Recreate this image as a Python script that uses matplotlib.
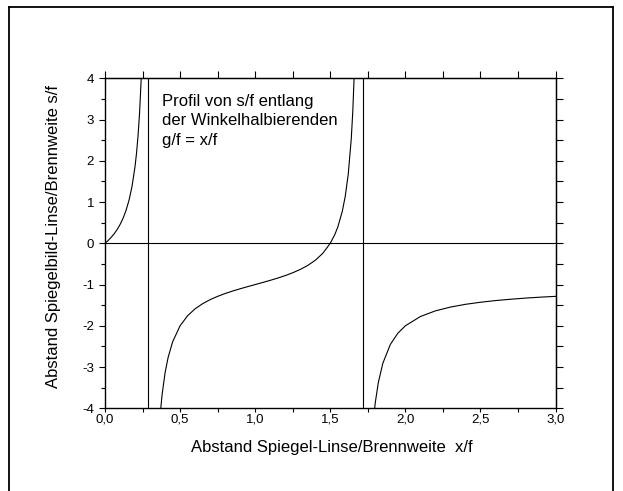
import matplotlib
matplotlib.use('Agg')
import matplotlib.pyplot as plt
from matplotlib.ticker import MultipleLocator, FuncFormatter, NullFormatter
from matplotlib.lines import Line2D

plt.rcParams['font.family'] = ['Liberation Sans', 'DejaVu Sans']

# branch left of first pole
x1 = [0.0, 0.02, 0.04, 0.06, 0.08, 0.10, 0.12, 0.14, 0.16, 0.18, 0.20,
      0.21, 0.22, 0.23, 0.24, 0.245, 0.25]
y1 = [0.0, 0.064, 0.139, 0.225, 0.328, 0.452, 0.604, 0.795, 1.043, 1.378, 1.857,
      2.183, 2.598, 3.144, 3.897, 4.391, 5.0]

# middle branch
x2 = [0.36, 0.37, 0.38, 0.40, 0.42, 0.45, 0.50, 0.55, 0.60, 0.65, 0.70, 0.75,
      0.80, 0.85, 0.90, 0.95, 1.00, 1.05, 1.10, 1.15, 1.20, 1.25, 1.30, 1.35,
      1.40, 1.45, 1.50, 1.53, 1.55, 1.58, 1.60, 1.62, 1.64, 1.65, 1.66, 1.67]
y2 = [-4.54, -4.06, -3.68, -3.143, -2.773, -2.392, -2.0, -1.756, -1.588, -1.464,
      -1.366, -1.286, -1.217, -1.157, -1.102, -1.050, -1.0, -0.950, -0.898,
      -0.843, -0.783, -0.714, -0.634, -0.536, -0.412, -0.244, 0.0, 0.210, 0.392,
      0.773, 1.143, 1.682, 2.540, 3.194, 4.124, 5.4]

# right branch
x3 = [1.79, 1.80, 1.82, 1.85, 1.90, 1.95, 2.00, 2.10, 2.20, 2.30, 2.40, 2.50,
      2.60, 2.70, 2.80, 2.90, 3.00]
y3 = [-4.183, -3.857, -3.378, -2.910, -2.452, -2.180, -2.0, -1.775, -1.638,
      -1.546, -1.479, -1.429, -1.388, -1.356, -1.328, -1.305, -1.286]

poles = [0.285, 1.72]

fig = plt.figure(figsize=(6.23, 4.91), dpi=100)
ax = fig.add_axes([0.1685, 0.1684, 0.7232, 0.6721])

for xs, ys in [(x1, y1), (x2, y2), (x3, y3)]:
    ax.plot(xs, ys, color='black', lw=0.8)
for p in poles:
    ax.axvline(p, color='black', lw=0.8)
ax.axhline(0, color='black', lw=0.8)

ax.set_xlim(0, 3)
ax.set_ylim(-4, 4)
ax.xaxis.set_major_locator(MultipleLocator(0.5))
ax.xaxis.set_minor_locator(MultipleLocator(0.25))
ax.yaxis.set_major_locator(MultipleLocator(1))
ax.yaxis.set_minor_locator(MultipleLocator(0.5))
ax.xaxis.set_major_formatter(FuncFormatter(lambda v, p: f'{v:.1f}'.replace('.', ',')))
ax.yaxis.set_major_formatter(FuncFormatter(lambda v, p: f'{v:.0f}'))
ax.tick_params(axis='x', which='both', direction='out', length=3.1, width=0.8,
               labelsize=9.5, pad=0.8)
ax.tick_params(axis='y', which='major', direction='out', length=4.2, width=0.8,
               labelsize=9.5, pad=3.6)
ax.tick_params(axis='y', which='minor', direction='out', length=2.9, width=0.8)
for s in ax.spines.values():
    s.set_linewidth(1.0)

# top and right ticks, no labels
top = ax.secondary_xaxis('top')
top.xaxis.set_major_locator(MultipleLocator(0.25))
top.xaxis.set_major_formatter(NullFormatter())
top.tick_params(direction='out', length=5, width=0.8)
right = ax.secondary_yaxis('right')
right.yaxis.set_major_locator(MultipleLocator(0.5))
right.yaxis.set_major_formatter(NullFormatter())
right.tick_params(direction='out', length=5, width=0.8)

ax.set_xlabel('Abstand Spiegel-Linse/Brennweite  x/f', fontsize=12)
ax.xaxis.label.set_va('center')
ax.xaxis.set_label_coords(0.504, -0.12)
ax.set_ylabel('Abstand Spiegelbild-Linse/Brennweite s/f', fontsize=12)
ax.yaxis.label.set_va('center')
ax.yaxis.set_label_coords(-0.115, 0.52)

ax.text(0.38, 3.63, 'Profil von s/f entlang\nder Winkelhalbierenden\ng/f = x/f',
        fontsize=12, va='top', ha='left', linespacing=1.38)

# outer frame
W, H = 623, 491
fl, ft, fr = 9.2 / W, 1 - 6.8 / H, 613 / W
for xs, ys in [([fl, fl], [0, ft]), ([fl, fr], [ft, ft]), ([fr, fr], [0, ft])]:
    fig.add_artist(Line2D(xs, ys, color='black', lw=1.3, transform=fig.transFigure))

fig.savefig('out.png', dpi=100)
